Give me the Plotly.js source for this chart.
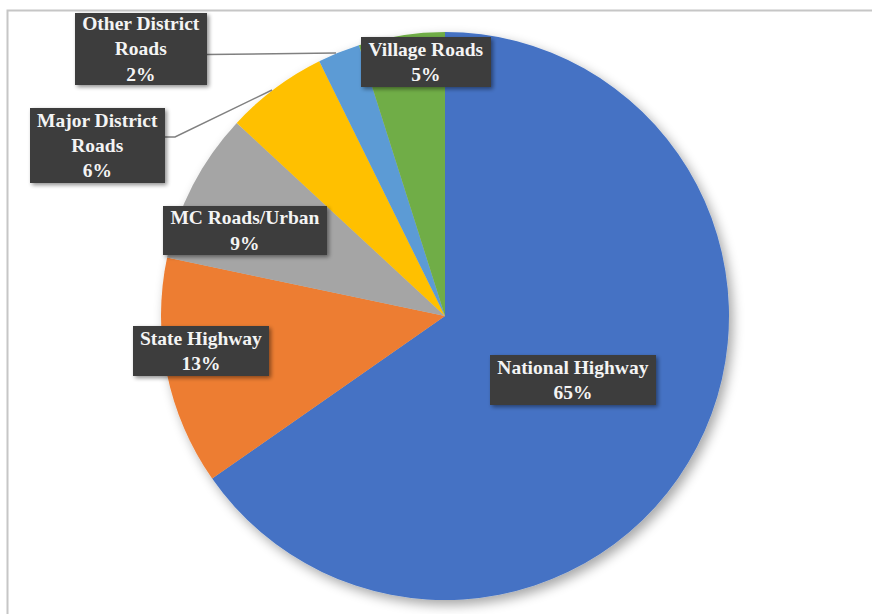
<!DOCTYPE html>
<html>
<head>
<meta charset="utf-8">
<script src="https://cdn.plot.ly/plotly-3.0.1.min.js"></script>
<style>
  html, body { margin: 0; padding: 0; background: #ffffff; }
  #chart { width: 872px; height: 614px; }
</style>
</head>
<body>
<div id="chart"></div>
<script>
// ---- data ----
const categories = ["National Highway", "State Highway", "MC Roads/Urban", "Major District Roads", "Other District Roads", "Village Roads"];
const values = [65.3, 13.0, 8.6, 5.8, 2.4, 4.9];
const labelText = ["National Highway", "State Highway", "MC Roads/Urban", "Major District<br>Roads", "Other District<br>Roads", "Village Roads"];
const sliceColors = ["#4472C4", "#ED7D31", "#A5A5A5", "#FFC000", "#5B9BD5", "#70AD47"];

// ---- layout helpers (pixel positions of label boxes) ----
const W = 872, H = 614;
const px = x => x / W;
const py = y => 1 - y / H;
const boxCenters = [[573, 380], [201, 351], [245, 230.5], [97.5, 145.5], [141, 49], [426, 62]];
const boxSizes = [[166, 50], [136, 50], [164, 49], [135, 75], [132, 72], [130, 50]];

const total = values.reduce((a, b) => a + b, 0);
const annotations = categories.map((c, i) => ({
  xref: 'paper', yref: 'paper',
  x: px(boxCenters[i][0]), y: py(boxCenters[i][1]),
  xanchor: 'center', yanchor: 'middle',
  text: '<b>' + labelText[i] + '<br>' + Math.round(values[i] / total * 100) + '%</b>',
  showarrow: false,
  bgcolor: '#3d3d3d',
  borderpad: 0, borderwidth: 0,
  width: boxSizes[i][0], height: boxSizes[i][1],
  align: 'center',
  font: { family: 'Times New Roman', size: 19.5, color: '#f4f4f4' }
}));

// pie geometry
const cx = 445, cy = 316, R = 284;

const shapes = [
  // chart border
  { type: 'path', xref: 'paper', yref: 'paper',
    path: `M ${px(7.5)},${py(700)} L ${px(7.5)},${py(10.5)} L ${px(900)},${py(10.5)}`,
    line: { color: '#c6c6c6', width: 2 } },
  // leader line Other District Roads
  { type: 'path', xref: 'paper', yref: 'paper',
    path: `M ${px(207)},${py(54.5)} L ${px(336)},${py(53)}`,
    line: { color: '#808080', width: 1.5 } },
  // leader line Major District Roads
  { type: 'path', xref: 'paper', yref: 'paper',
    path: `M ${px(165)},${py(137)} L ${px(175)},${py(137)} L ${px(272)},${py(90)}`,
    line: { color: '#808080', width: 1.5 } }
];

const trace = {
  type: 'pie',
  labels: categories,
  values: values,
  sort: false,
  direction: 'clockwise',
  rotation: 0,
  textinfo: 'none',
  hoverinfo: 'skip',
  marker: { colors: sliceColors, line: { width: 0 } },
  domain: { x: [px(cx - R), px(cx + R)], y: [py(cy + R), py(cy - R)] }
};

const layout = {
  width: W, height: H,
  margin: { l: 0, r: 0, t: 0, b: 0 },
  paper_bgcolor: '#ffffff',
  showlegend: false,
  annotations: annotations,
  shapes: shapes
};

Plotly.newPlot('chart', [trace], layout, { staticPlot: true }).then(gd => {
  const NS = 'http://www.w3.org/2000/svg';
  gd.querySelectorAll('svg.main-svg').forEach((svg, k) => {
    let defs = svg.querySelector('defs');
    if (!defs) { defs = document.createElementNS(NS, 'defs'); svg.insertBefore(defs, svg.firstChild); }
    const f = document.createElementNS(NS, 'filter');
    f.setAttribute('id', 'softshadow' + k);
    f.setAttribute('x', '-20%'); f.setAttribute('y', '-20%');
    f.setAttribute('width', '140%'); f.setAttribute('height', '140%');
    f.innerHTML = '<feGaussianBlur in="SourceAlpha" stdDeviation="' + (k === 0 ? 6 : 2) + '"/>' +
      '<feOffset dx="' + (k === 0 ? 4 : 2) + '" dy="' + (k === 0 ? 5 : 2) + '" result="ob"/>' +
      '<feComponentTransfer><feFuncA type="linear" slope="' + (k === 0 ? 0.35 : 0.45) + '"/></feComponentTransfer>' +
      '<feMerge><feMergeNode/><feMergeNode in="SourceGraphic"/></feMerge>';
    defs.appendChild(f);
  });
  const pl = gd.querySelector('.pielayer');
  if (pl) pl.setAttribute('filter', 'url(#softshadow0)');
  gd.querySelectorAll('.annotation .bg').forEach(r => r.setAttribute('filter', 'url(#softshadow1)'));
});
</script>
</body>
</html>
